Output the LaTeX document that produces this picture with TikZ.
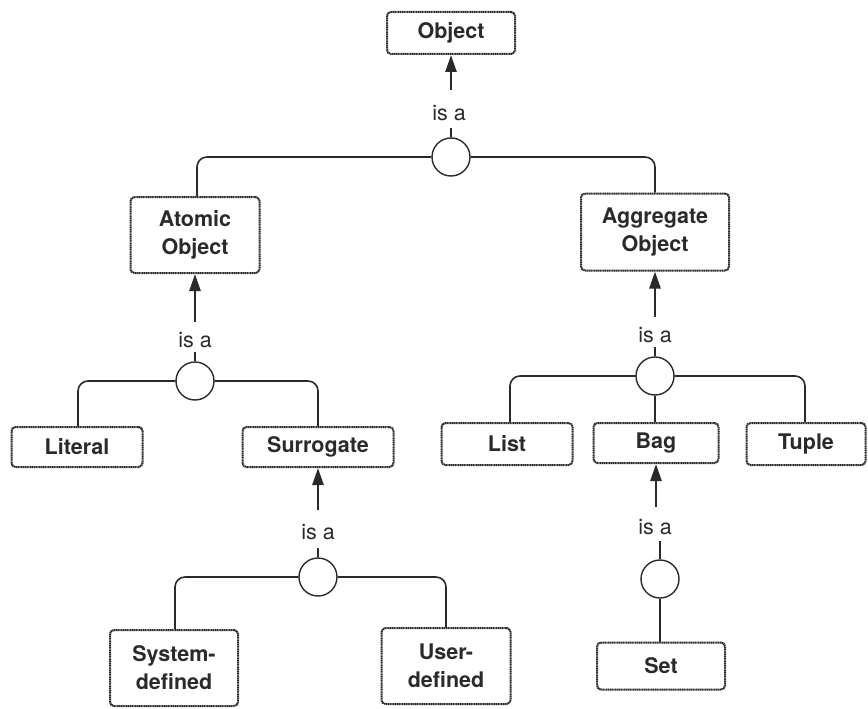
\documentclass[tikz,border=0pt]{standalone}
\usepackage{fontspec}
\setmainfont{TeX Gyre Heros}
\usetikzlibrary{arrows.meta}
\definecolor{ink}{HTML}{2A2A2A}
\tikzset{
  cls/.style={draw=ink, line width=2pt, dash pattern=on 1.3pt off 0.5pt,
    rounded corners=4pt, align=center, text=ink, inner sep=2pt,
    font=\fontsize{21.5}{28}\selectfont\bfseries},
  junction/.style={draw=ink, line width=1.4pt, circle, minimum size=38pt, inner sep=0pt},
  isa/.style={text=ink, font=\fontsize{21.5}{25}\selectfont, inner sep=1pt},
  conn/.style={draw=ink, line width=1.6pt, rounded corners=10pt},
  gen/.style={draw=ink, line width=2.6pt, -{Triangle[length=17pt,width=11pt]}},
}
\begin{document}
\begin{tikzpicture}[x=1pt,y=-1pt]
\useasboundingbox (0,0) rectangle (868,709);

% class boxes
\node[cls, minimum width=128pt, minimum height=42pt] (obj)     at (451,33)  {Object};
\node[cls, minimum width=129pt, minimum height=76pt] (atomic)  at (195,235) {Atomic\\Object};
\node[cls, minimum width=148pt, minimum height=77pt] (aggr)    at (655,232) {Aggregate\\Object};
\node[cls, minimum width=131pt, minimum height=40pt] (literal) at (77,447)  {Literal};
\node[cls, minimum width=151pt, minimum height=40pt] (surr)    at (318,447) {Surrogate};
\node[cls, minimum width=128pt, minimum height=76pt] (sysdef)  at (174,668) {System-\\defined};
\node[cls, minimum width=129pt, minimum height=76pt] (userdef) at (446,666) {User-\\defined};
\node[cls, minimum width=131pt, minimum height=42pt] (list)    at (507,444) {List};
\node[cls, minimum width=125pt, minimum height=40pt] (bag)     at (656,443) {Bag};
\node[cls, minimum width=119pt, minimum height=42pt] (tuple)   at (806,444) {Tuple};
\node[cls, minimum width=128pt, minimum height=47pt] (set)     at (661,666) {Set};

% generalisation junctions
\node[junction] (c0) at (451,157) {};
\node[junction] (c1) at (195,381) {};
\node[junction] (c2) at (318,577) {};
\node[junction] (c3) at (655,376) {};
\node[junction] (c4) at (660,579) {};

% "is a" labels
\node[isa] (l0) at (449,113) {is a};
\node[isa] (l1) at (195,340) {is a};
\node[isa] (l2) at (318,532) {is a};
\node[isa] (l3) at (655,335) {is a};
\node[isa] (l4) at (655,527) {is a};

% arrow tails above the labels
\coordinate (a0) at (451,90);
\coordinate (a1) at (195,322);
\coordinate (a2) at (318,510);
\coordinate (a3) at (655,317);
\coordinate (a4) at (656,507);

% arrows to the superclasses
\draw[gen] (a0) -- (obj.south);
\draw[gen] (a1) -- (atomic.south);
\draw[gen] (a2) -- (surr.south);
\draw[gen] (a3) -- (aggr.south);
\draw[gen] (a4) -- (bag.south);

% short stubs on top of each junction
\foreach \c in {c0,c1,c2,c3}
  \draw[ink, line width=1.4pt] (\c.north) -- ++(0,-9);
\draw[ink, line width=1.4pt] (c4.north) -- ++(0,-18);

% branches to the subclasses
\draw[conn] (c0.west) -| ([xshift=2pt]atomic.north);
\draw[conn] (c0.east) -| (aggr.north);
\draw[conn] (c1.west) -| ([xshift=1pt]literal.north);
\draw[conn] (c1.east) -| (surr.north);
\draw[conn] (c2.west) -| ([xshift=1pt]sysdef.north);
\draw[conn] (c2.east) -| (userdef.north);
\draw[conn] (c3.west) -| ([xshift=3pt]list.north);
\draw[conn] (c3.east) -| ([xshift=-1pt]tuple.north);
\draw[conn] (c3.south) -- (c3.south |- bag.north);
\draw[conn] (c4.south) -- (c4.south |- set.north);
\end{tikzpicture}
\end{document}
